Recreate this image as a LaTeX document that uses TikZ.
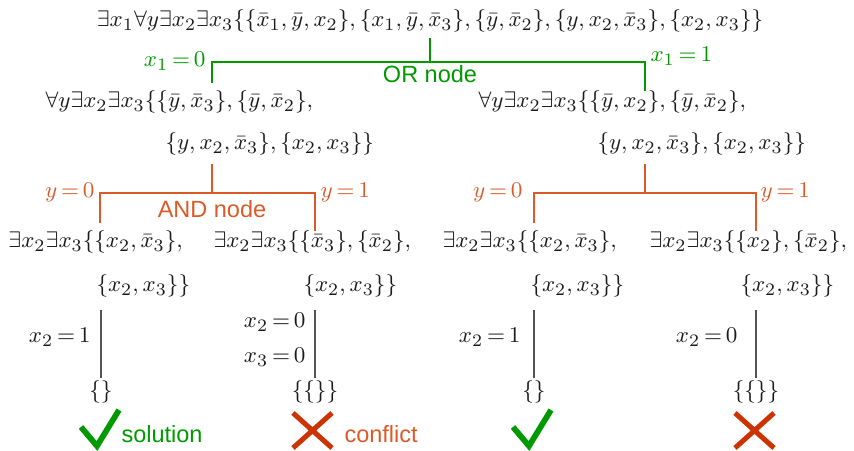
\documentclass[tikz,border=0pt]{standalone}
\usepackage{amsmath,amssymb}
\usepackage{fontspec}
\newfontfamily\tagfont{Liberation Sans}
\usetikzlibrary{positioning,calc}
\definecolor{orgreen}{HTML}{009A00}
\definecolor{andred}{HTML}{DA5A28}
\definecolor{crossred}{HTML}{CC3300}
\definecolor{ink}{HTML}{1A1A1A}

\begin{document}
\begin{tikzpicture}[x=.4pt,y=-.4pt,font=\fontsize{9.3}{11.2}\selectfont,
  fml/.style={inner sep=0pt,text=ink},
  orc/.style={draw=orgreen,line width=.45pt},
  andc/.style={draw=andred,line width=.45pt},
  asgc/.style={draw=ink!75,line width=.45pt},
  eqlab/.style={inner sep=0pt,execute at begin node={\thickmuskip=3mu plus 2mu}},
  orlab/.style={eqlab,text=orgreen},
  andlab/.style={eqlab,text=andred},
  asglab/.style={eqlab,text=ink,anchor=base east},
  tag/.style={inner sep=0pt,anchor=base west,font=\tagfont\fontsize{9.4}{11}\selectfont}]
  \useasboundingbox (0,0) rectangle (854,451);

  \node[fml,anchor=base] (root) at (430,27)
    {$\exists x_1\forall y\exists x_2\exists x_3\{\{\bar{x}_1,\bar{y},x_2\},\{x_1,\bar{y},\bar{x}_3\},\{\bar{y},\bar{x}_2\},\{y,x_2,\bar{x}_3\},\{x_2,x_3\}\}$};

  \node[fml,anchor=base west] (l1a) at (45,108) {$\forall y\exists x_2\exists x_3\{\{\bar{y},\bar{x}_3\},\{\bar{y},\bar{x}_2\},$};
  \node[fml,anchor=base west] (l1b) at (165,150) {$\{y,x_2,\bar{x}_3\},\{x_2,x_3\}\}$};
  \node[fml,anchor=base west] (r1a) at (478,108) {$\forall y\exists x_2\exists x_3\{\{\bar{y},x_2\},\{\bar{y},\bar{x}_2\},$};
  \node[fml,anchor=base west] (r1b) at (597,150) {$\{y,x_2,\bar{x}_3\},\{x_2,x_3\}\}$};

  \coordinate (orL) at (212,62);
  \coordinate (orR) at (645,62);
  \draw[orc,shorten <=2pt] (root.south) -- (root.south |- orL);
  \draw[orc,shorten <=3pt] (orL |- l1a.north) -- (orL) -- (orR) -- (orR |- r1a.north);
  \node[orlab,anchor=base east] (x1f) at (206,67) {$x_1=0$};
  \node[orlab,anchor=base west] (x1t) at (650,62) {$x_1=1$};
  \node[tag,text=orgreen,anchor=base] (ornd) at (430,83) {OR node};

  \node[fml,anchor=base west] (lla) at (8,248) {$\exists x_2\exists x_3\{\{x_2,\bar{x}_3\},$};
  \node[fml,anchor=base west] (llb) at (96,292) {$\{x_2,x_3\}\}$};
  \node[fml,anchor=base west] (lra) at (213,248) {$\exists x_2\exists x_3\{\{\bar{x}_3\},\{\bar{x}_2\},$};
  \node[fml,anchor=base west] (lrb) at (303,292) {$\{x_2,x_3\}\}$};
  \node[fml,anchor=base west] (rla) at (442,248) {$\exists x_2\exists x_3\{\{x_2,\bar{x}_3\},$};
  \node[fml,anchor=base west] (rlb) at (530,292) {$\{x_2,x_3\}\}$};
  \node[fml,anchor=base west] (rra) at (649,248) {$\exists x_2\exists x_3\{\{x_2\},\{\bar{x}_2\},$};
  \node[fml,anchor=base west] (rrb) at (740,292) {$\{x_2,x_3\}\}$};

  \coordinate (andLL) at (100,193);
  \coordinate (andLR) at (315,193);
  \coordinate (andRL) at (534,193);
  \coordinate (andRR) at (756,193);
  \draw[andc,shorten <=3pt] (l1b.south -| orL) -- (orL |- andLL);
  \draw[andc,shorten <=3pt] (andLL |- lla.north) -- (andLL) -- (andLR) -- (andLR |- lra.north);
  \draw[andc,shorten <=3pt] (r1b.south -| orR) -- (orR |- andRL);
  \draw[andc,shorten <=3pt] (andRL |- rla.north) -- (andRL) -- (andRR) -- (andRR |- rra.north);
  \node[andlab,anchor=base east] (yLf) at (95,198) {$y=0$};
  \node[andlab,anchor=base west] (yLt) at (320,198) {$y=1$};
  \node[tag,text=andred,anchor=base] (andnd) at (212,218) {AND node};
  \node[andlab,anchor=base east] (yRf) at (523,198) {$y=0$};
  \node[andlab,anchor=base west] (yRt) at (760,198) {$y=1$};

  \node[fml] (llf) at (101,392) {$\{\}$};
  \node[fml] (lrf) at (315,392) {$\{\{\}\}$};
  \node[fml] (rlf) at (534,392) {$\{\}$};
  \node[fml] (rrf) at (756,392) {$\{\{\}\}$};
  \draw[asgc,shorten >=1pt] (llf |- llb.south) ++(0,12) -- (llf.north);
  \draw[asgc,shorten >=1pt] (lrf |- lrb.south) ++(0,12) -- (lrf.north);
  \draw[asgc,shorten >=1pt] (rlf |- rlb.south) ++(0,12) -- (rlf.north);
  \draw[asgc,shorten >=1pt] (rrf |- rrb.south) ++(0,12) -- (rrf.north);
  \node[asglab] (ll2) at (91,343) {$x_2=1$};
  \node[asglab] (lr2) at (306,328) {$x_2=0$};
  \node[asglab] (lr3) at (306,363) {$x_3=0$};
  \node[asglab] (rl2) at (521,343) {$x_2=1$};
  \node[asglab] (rr2) at (738,343) {$x_2=0$};

  \foreach \cx in {0,432}{
    \draw[orgreen,line width=2.3pt,line join=miter] (81+\cx,427) -- (97+\cx,446) -- (119+\cx,410);
  }
  \foreach \cx in {0,442}{
    \draw[crossred,line width=2pt] (293+\cx,413) -- (332+\cx,448) (332+\cx,413) -- (293+\cx,448);
  }
  \node[tag,text=orgreen] (sol) at (121,443) {solution};
  \node[tag,text=andred] (conf) at (344,443) {conflict};
\end{tikzpicture}
\end{document}
